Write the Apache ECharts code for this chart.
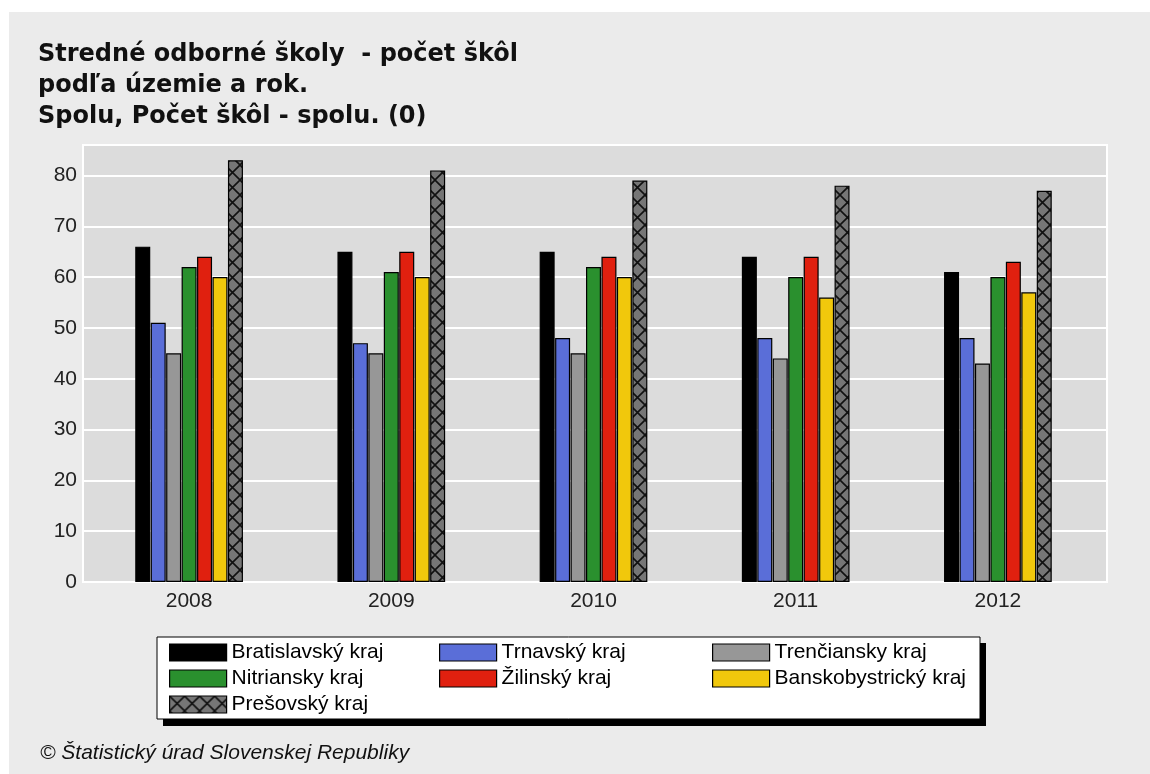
<!DOCTYPE html>
<html>
<head>
<meta charset="utf-8">
<script src="https://cdn.jsdelivr.net/npm/echarts@6/dist/echarts.min.js"></script>
<style>
html,body{margin:0;padding:0;background:#fff;}
#c{width:1150px;height:774px;}
</style>
</head>
<body>
<div id="c"></div>
<script>
const categories = ['2008', '2009', '2010', '2011', '2012'];
const bratislavsky = [66, 65, 65, 64, 61];
const trnavsky = [51, 47, 48, 48, 48];
const trenciansky = [45, 45, 45, 44, 43];
const nitriansky = [62, 61, 62, 60, 60];
const zilinsky = [64, 65, 64, 64, 63];
const banskobystricky = [60, 60, 60, 56, 57];
const presovsky = [83, 81, 79, 78, 77];
const yTicks = [0, 10, 20, 30, 40, 50, 60, 70, 80];

const names = ['Bratislavský kraj', 'Trnavský kraj', 'Trenčiansky kraj', 'Nitriansky kraj', 'Žilinský kraj', 'Banskobystrický kraj', 'Prešovský kraj'];
const values = [bratislavsky, trnavsky, trenciansky, nitriansky, zilinsky, banskobystricky, presovsky];

// crosshatch pattern
const pc = document.createElement('canvas');
pc.width = 15; pc.height = 15;
const pctx = pc.getContext('2d');
pctx.fillStyle = '#767676';
pctx.fillRect(0, 0, 15, 15);
pctx.strokeStyle = '#111';
pctx.lineWidth = 1.6;
pctx.beginPath();
pctx.moveTo(0, 0); pctx.lineTo(15, 15);
pctx.moveTo(15, 0); pctx.lineTo(0, 15);
pctx.stroke();

const colors = ['#000000', '#5a6ed8', '#979797', '#2a902e', '#e0200f', '#f1c80c', {image: pc, repeat: 'repeat'}];

const chart = echarts.init(document.getElementById('c'));
const font = '"Liberation Sans", Arial, sans-serif';

const series = names.map((n, i) => ({
  name: n,
  type: 'bar',
  xAxisIndex: 1,
  yAxisIndex: 1,
  data: values[i],
  barWidth: 15,
  barGap: '3%',
  itemStyle: {color: colors[i], borderColor: '#000', borderWidth: 1.2},
  emphasis: {disabled: true}
}));

const legendCommon = {
  orient: 'vertical',
  icon: 'rect',
  itemWidth: 57,
  itemHeight: 17,
  itemGap: 5,
  padding: 0,
  selectedMode: false,
  textStyle: {fontFamily: font, fontSize: 21, color: '#000', lineHeight: 21},
  itemStyle: {borderColor: '#000', borderWidth: 1.2}
};

chart.setOption({
  animation: false,
  backgroundColor: '#ffffff',
  graphic: [
    {type: 'rect', z: -10, shape: {x: 9, y: 12, width: 1141, height: 762}, style: {fill: '#ebebeb'}},
    {type: 'rect', z: 5, shape: {x: 163, y: 643, width: 823, height: 83}, style: {fill: '#000'}},
    {type: 'rect', z: 6, shape: {x: 157, y: 637, width: 823, height: 82}, style: {fill: '#fff', stroke: '#000', lineWidth: 1}},
    {type: 'text', z: 10, left: 40, top: 743, style: {text: '© Štatistický úrad Slovenskej Republiky', font: 'italic 21px "Liberation Sans", Arial, sans-serif', fill: '#111'}}
  ],
  title: {
    text: 'Stredné odborné školy  - počet škôl\npodľa územie a rok.\nSpolu, Počet škôl - spolu. (0)',
    left: 38,
    top: 39,
    padding: 0,
    textStyle: {fontFamily: '"DejaVu Sans", sans-serif', fontWeight: 'bold', fontSize: 24, lineHeight: 31, color: '#111'}
  },
  legend: [
    Object.assign({}, legendCommon, {left: 169, top: 642, data: ['Bratislavský kraj', 'Nitriansky kraj', 'Prešovský kraj'], z: 20}),
    Object.assign({}, legendCommon, {left: 439, top: 642, data: ['Trnavský kraj', 'Žilinský kraj'], z: 20}),
    Object.assign({}, legendCommon, {left: 712, top: 642, data: ['Trenčiansky kraj', 'Banskobystrický kraj'], z: 20})
  ],
  grid: [
    {left: 83, right: 43, top: 145, bottom: 192, show: true, backgroundColor: '#dcdcdc', borderColor: '#ffffff', borderWidth: 2},
    {left: 88, right: 51, top: 145, bottom: 192}
  ],
  xAxis: [
    {type: 'category', gridIndex: 0, data: categories, show: false},
    {type: 'category', gridIndex: 1, data: categories,
     axisLine: {show: false}, axisTick: {show: false},
     axisLabel: {fontFamily: font, fontSize: 21, color: '#222', margin: 9}}
  ],
  yAxis: [
    {type: 'value', gridIndex: 0, min: 0, max: 86, interval: 10,
     axisLine: {show: false}, axisTick: {show: false},
     splitLine: {lineStyle: {color: '#ffffff', width: 2}},
     axisLabel: {fontFamily: font, fontSize: 21, color: '#222', margin: 6, showMaxLabel: false,
       formatter: v => (yTicks.indexOf(v) >= 0 ? String(v) : '')}},
    {type: 'value', gridIndex: 1, min: 0, max: 86, show: false, splitLine: {show: false}}
  ],
  series: series
});
</script>
</body>
</html>
